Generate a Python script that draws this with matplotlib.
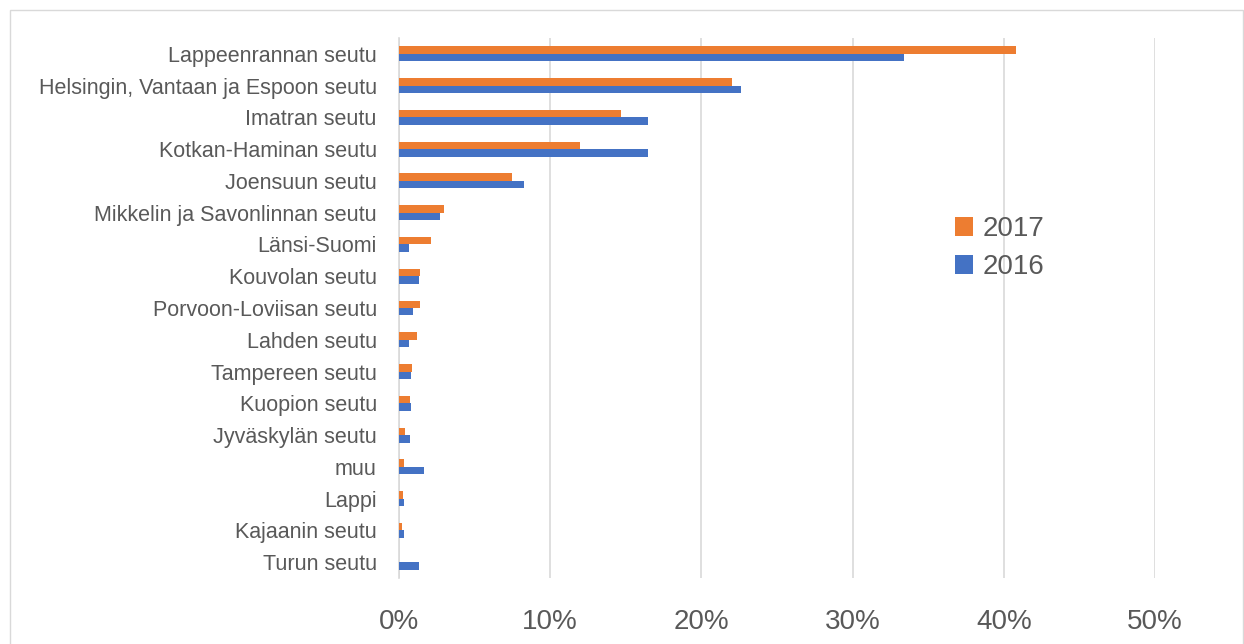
import matplotlib
matplotlib.use("Agg")
import matplotlib.pyplot as plt
from matplotlib.patches import Rectangle
from matplotlib.ticker import FuncFormatter, MultipleLocator
import numpy as np

plt.rcParams["font.family"] = ["Liberation Sans", "DejaVu Sans"]

REGIONS = [
    "Lappeenrannan seutu",
    "Helsingin, Vantaan ja Espoon seutu",
    "Imatran seutu",
    "Kotkan-Haminan seutu",
    "Joensuun seutu",
    "Mikkelin ja Savonlinnan seutu",
    "Länsi-Suomi",
    "Kouvolan seutu",
    "Porvoon-Loviisan seutu",
    "Lahden seutu",
    "Tampereen seutu",
    "Kuopion seutu",
    "Jyväskylän seutu",
    "muu",
    "Lappi",
    "Kajaanin seutu",
    "Turun seutu",
]
# shares, percent
SHARE_2017 = [40.8, 22.0, 14.7, 12.0, 7.5, 3.0, 2.1, 1.4, 1.4, 1.2, 0.85, 0.7, 0.4, 0.36, 0.26, 0.17, 0.03]
SHARE_2016 = [33.4, 22.6, 16.5, 16.5, 8.3, 2.7, 0.66, 1.3, 0.9, 0.65, 0.8, 0.78, 0.72, 1.65, 0.36, 0.33, 1.3]
YEARS = ["2017", "2016"]

ORANGE = "#ED7D31"
BLUE = "#4472C4"
GRID = "#D9D9D9"
TXT = "#595959"

W, H = 1244, 644
fig = plt.figure(figsize=(W / 100, H / 100), dpi=100)
ax = fig.add_axes([399 / W, 1 - 578 / H, (1155 - 399) / W, (578 - 38) / H])

y = np.arange(len(REGIONS))
bh = 0.235
ax.barh(y - bh / 2, SHARE_2017, height=bh, color=ORANGE, label=YEARS[0], zorder=3)
ax.barh(y + bh / 2, SHARE_2016, height=bh, color=BLUE, label=YEARS[1], zorder=3)

ax.set_ylim(len(REGIONS) - 0.5, -0.5)
ax.set_xlim(0, 50)
ax.set_yticks(y)
ax.set_yticklabels(REGIONS, fontsize=15.5, color=TXT)
ax.xaxis.set_major_locator(MultipleLocator(10))
ax.xaxis.set_major_formatter(FuncFormatter(lambda v, _: f"{v:.0f}%"))
ax.tick_params(axis="x", labelsize=20, labelcolor=TXT, length=0, pad=22)
ax.tick_params(axis="y", length=0, pad=16)
ax.grid(axis="x", color=GRID, lw=1.2, zorder=0)
for s in ["top", "right", "bottom"]:
    ax.spines[s].set_visible(False)
ax.spines["left"].set_color(GRID)
ax.spines["left"].set_linewidth(1.2)

leg = ax.legend(loc="upper left", bbox_to_anchor=(955 / W, 1 - 216 / H),
                bbox_transform=fig.transFigure, frameon=False, fontsize=20,
                handlelength=0.65, handleheight=0.65, handletextpad=0.33,
                labelspacing=0.45, borderpad=0, borderaxespad=0)
for t in leg.get_texts():
    t.set_color(TXT)

fig.patches.append(Rectangle((9.5 / W, -0.02), (1243 - 9.5) / W, 1 - 9.5 / H + 0.02,
                             transform=fig.transFigure, fill=False, edgecolor=GRID, lw=1))

fig.savefig("out.png", dpi=100)
